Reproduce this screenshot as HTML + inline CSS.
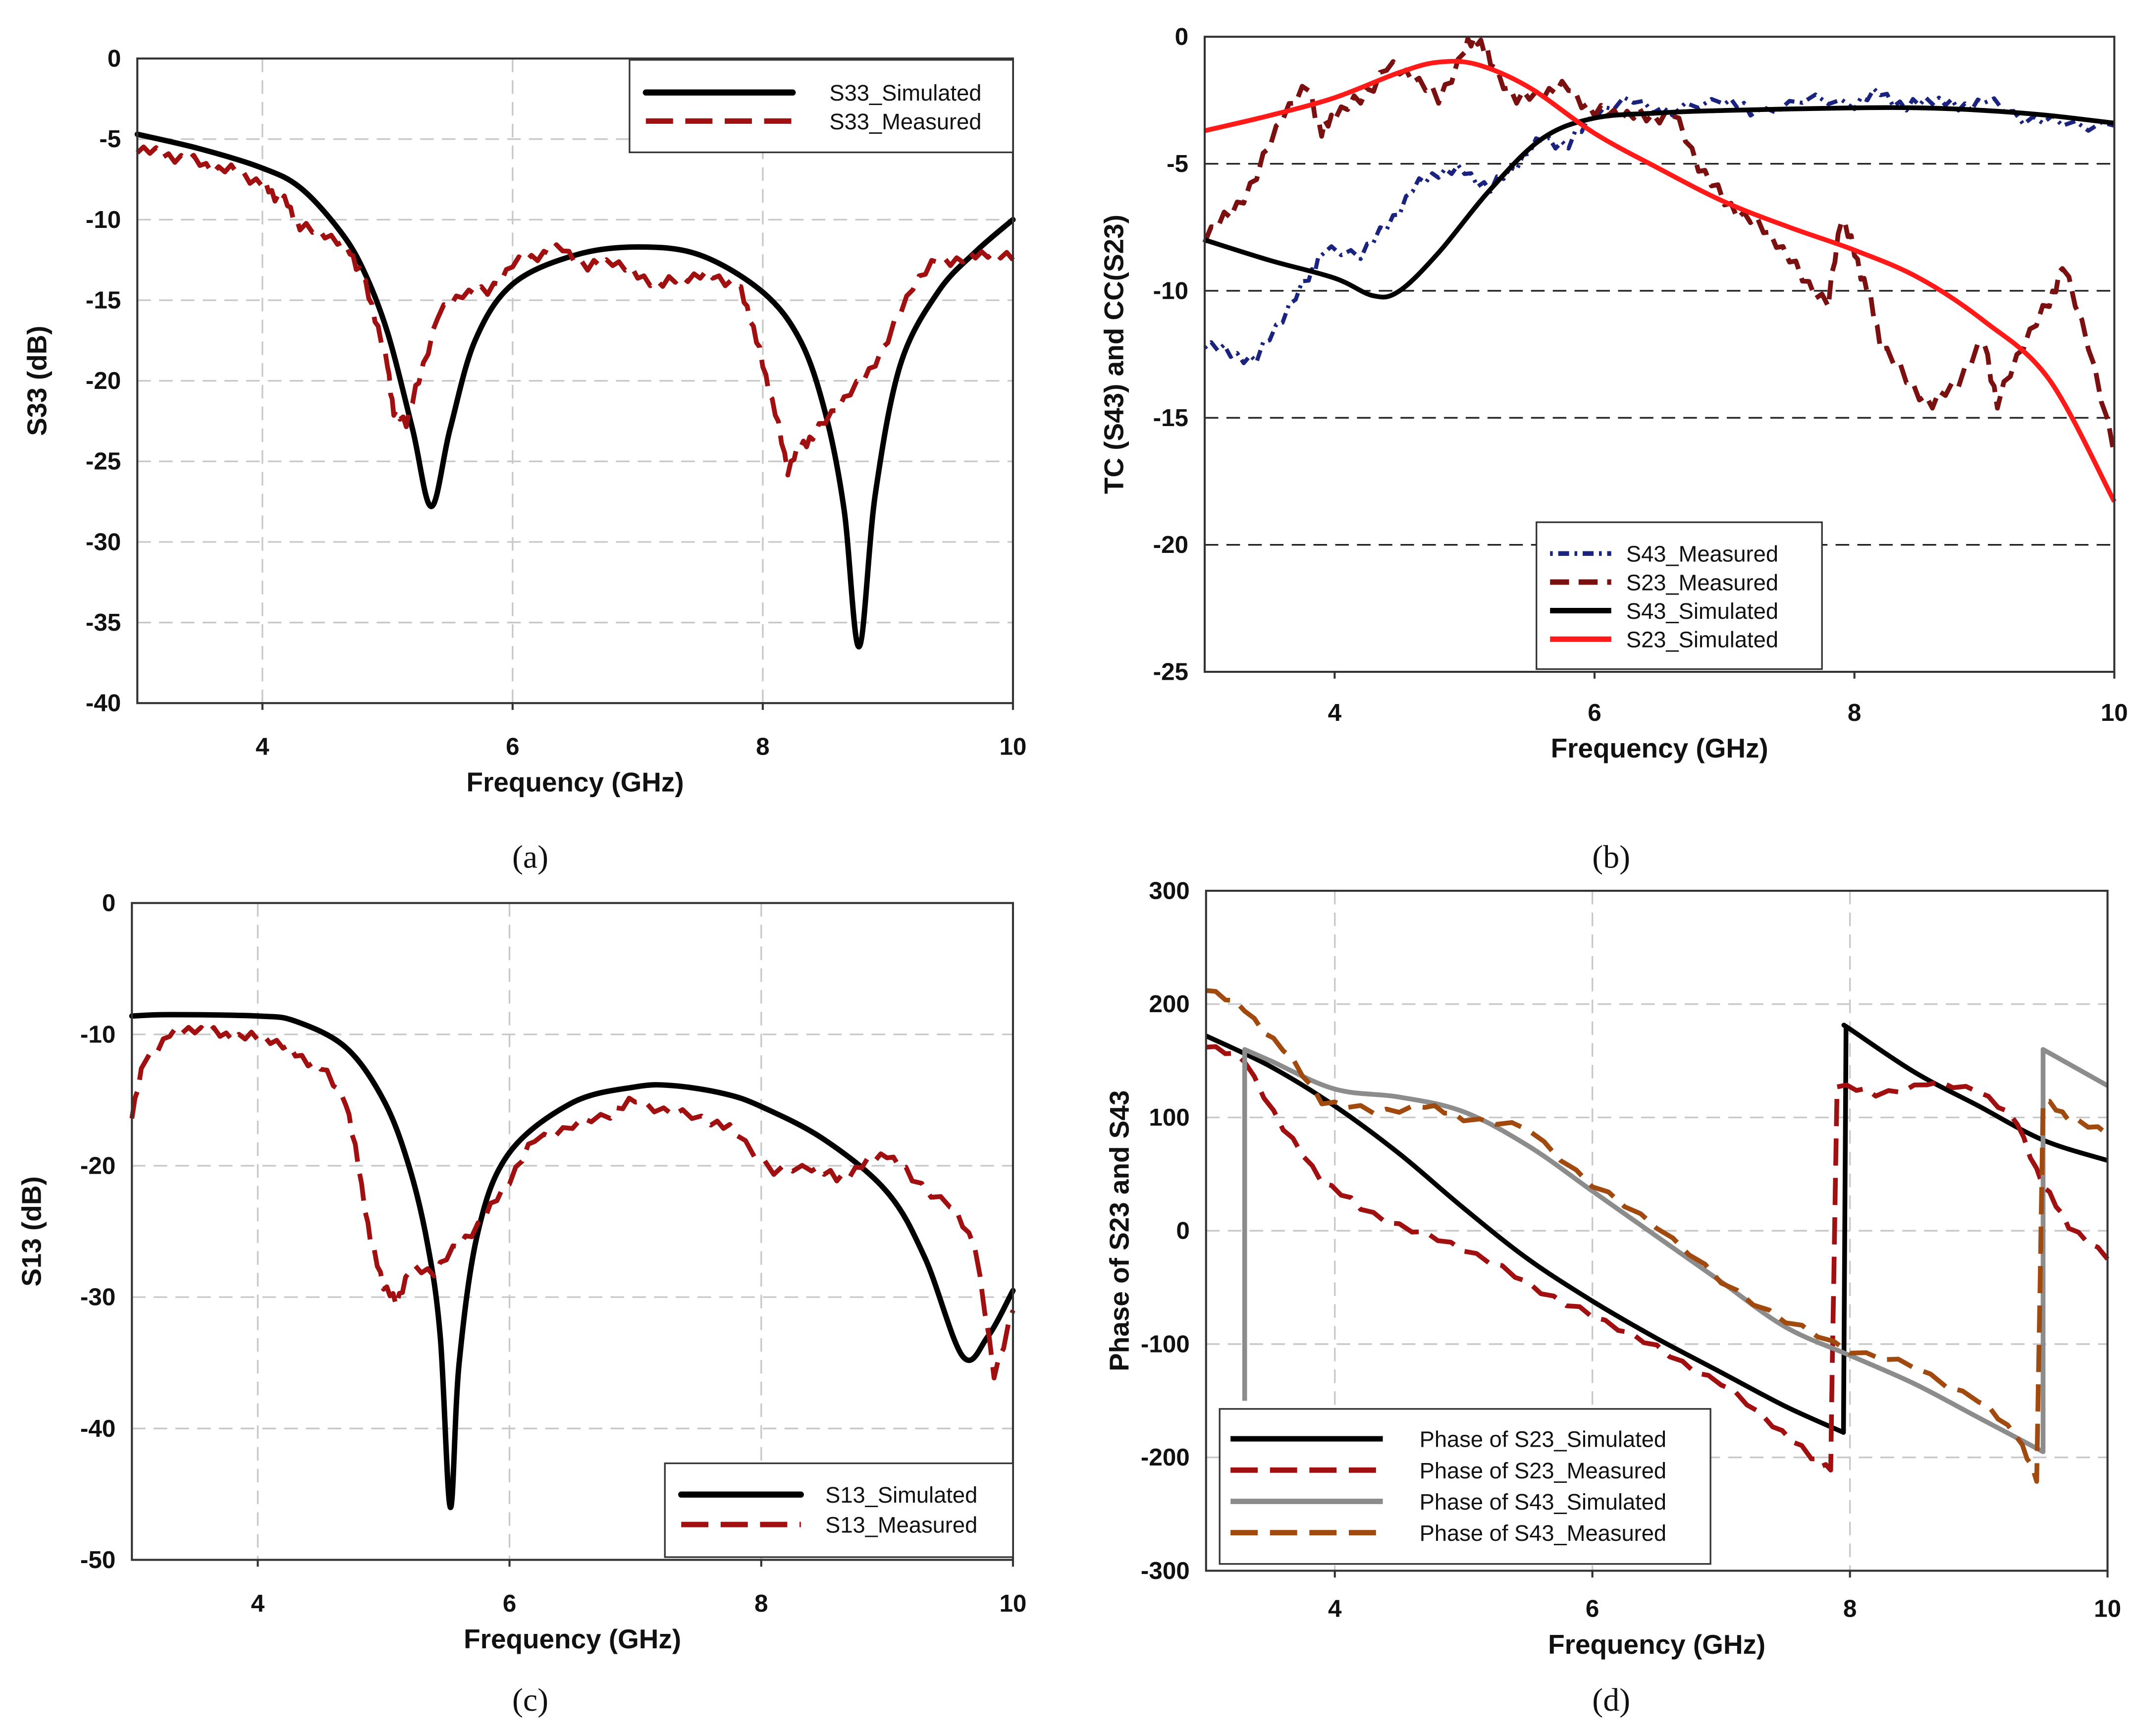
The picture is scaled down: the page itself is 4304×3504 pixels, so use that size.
<!DOCTYPE html>
<html><head><meta charset="utf-8"><style>
html,body{margin:0;padding:0;background:#fff;}
svg{display:block;}
text{font-family:"Liberation Sans",Arial,sans-serif;}
.tk{font-size:18px;font-weight:bold;fill:#111;}
.at{font-size:20px;font-weight:bold;fill:#111;}
.lg{font-size:16.5px;fill:#111;}
.cap{font-family:"Liberation Serif",serif;font-size:24px;fill:#111;}
</style></head><body>
<svg id="fig" width="4304" height="3504" viewBox="0 0 1568 1276.5" xmlns="http://www.w3.org/2000/svg"></svg>
<script>
// ---- data (a) ----
const aSimX=[3,3.5,4,4.3,4.6,4.8,5.0,5.2,5.35,5.5,5.7,6,6.5,7,7.5,8,8.3,8.5,8.65,8.77,8.9,9.1,9.4,9.7,10];
const aSimY=[-4.7,-5.6,-6.8,-8,-10.5,-13,-17,-23,-27.8,-23,-17.5,-14,-12.2,-11.7,-12.2,-14.5,-17.5,-22,-28,-36.5,-27,-19,-14.5,-12,-10];
const aMeaX=[3,3.2,3.4,3.6,3.8,4,4.1,4.2,4.3,4.5,4.7,4.8,4.9,5,5.05,5.15,5.25,5.4,5.6,5.8,6,6.2,6.4,6.6,6.8,7,7.2,7.4,7.6,7.8,7.9,8,8.1,8.2,8.3,8.4,8.6,8.8,9,9.2,9.4,9.6,9.8,10];
const aMeaY=[-5.5,-6,-6.2,-6.8,-7,-7.8,-8.5,-9,-10.5,-10.8,-12,-13.5,-16,-19,-22,-22.5,-20,-16,-14.5,-14.5,-12.8,-12.2,-11.8,-13,-12.5,-13.5,-14,-13.5,-13.5,-14,-16,-19,-22,-25.5,-24,-23.5,-21.5,-20,-17.5,-14,-12.5,-12.5,-12,-12.5];
// ---- data (b) ----
const b43SimX=[3,3.5,4,4.3,4.5,4.8,5.2,5.6,6,6.5,7,8,8.5,9,9.5,10];
const b43SimY=[-8,-8.8,-9.5,-10.2,-10,-8.5,-6,-4,-3.2,-3,-2.9,-2.8,-2.8,-2.9,-3.1,-3.4];
const b23SimX=[3,3.5,4,4.5,4.8,5.1,5.5,6,6.5,7,7.5,8,8.5,9,9.5,10];
const b23SimY=[-3.7,-3.1,-2.4,-1.4,-1,-1.1,-2,-3.8,-5.2,-6.5,-7.5,-8.4,-9.5,-11.2,-13.5,-18.3];
const b43MeaX=[3,3.2,3.4,3.6,3.8,3.9,4.2,4.4,4.6,4.8,5,5.2,5.4,5.6,5.8,6,6.3,6.6,7,7.2,7.6,8,8.2,8.4,8.6,8.8,9,9.3,9.6,10];
const b43MeaY=[-12,-12.5,-12.7,-11,-9.5,-8.5,-8.5,-7.5,-6,-5.3,-5.3,-6,-5,-4,-4.3,-3,-2.5,-3,-2.4,-3,-2.5,-2.6,-2.2,-2.8,-2.4,-2.8,-2.5,-3.2,-3.4,-3.5];
const b23MeaX=[3,3.2,3.4,3.6,3.8,3.9,4,4.2,4.4,4.6,4.8,5,5.1,5.2,5.4,5.6,5.8,6,6.2,6.4,6.6,6.8,7,7.2,7.4,7.6,7.8,7.9,8,8.1,8.2,8.4,8.6,8.8,9,9.1,9.3,9.5,9.6,9.8,10];
const b23MeaY=[-7.8,-7,-5.5,-3,-2,-3.8,-3,-2.5,-1.2,-1.5,-2.5,-0.5,0,-1,-2.5,-2.2,-2,-3,-3,-3.2,-3,-5,-6.5,-7.2,-8,-9.5,-10.5,-7,-8.5,-10,-12,-13.5,-14.5,-13.5,-12,-14.5,-12,-10.5,-9,-12,-16.5];
// ---- data (c) ----
const cSimX=[3,3.3,4,4.3,4.7,5,5.2,5.35,5.45,5.53,5.6,5.75,6,6.5,7,7.3,7.7,8,8.5,9,9.3,9.6,9.8,10];
const cSimY=[-8.6,-8.5,-8.6,-9,-11,-15,-20,-26,-33,-46,-35,-25,-19,-15.2,-14,-13.9,-14.5,-15.5,-18,-22,-27,-34.5,-33,-29.5];
const cMeaX=[3,3.1,3.3,3.5,3.7,3.9,4.1,4.3,4.5,4.7,4.8,4.9,5,5.1,5.2,5.4,5.6,5.8,6,6.2,6.5,6.8,7,7.3,7.6,7.8,8.1,8.4,8.6,8.8,9,9.2,9.5,9.7,9.85,10];
const cMeaY=[-16,-12,-10,-9.5,-10,-10.2,-10.3,-11.5,-12.5,-15,-20,-26,-29,-30.5,-28,-28,-26,-24,-21,-18,-17,-16,-15,-16,-16.5,-17.5,-20.5,-20,-21,-20,-19,-21,-23,-26,-36,-31];
// ---- data (d) ----
const d23SimX=[3,3.5,4,4.5,5,5.5,6,6.5,7,7.5,7.95,7.97,8,8.5,9,9.5,10];
const d23SimY=[172,145,110,68,20,-25,-62,-95,-125,-155,-178,180,178,140,110,80,62];
const d23MeaX=[3,3.3,3.6,3.9,4.2,4.6,5,5.4,5.8,6.2,6.6,7,7.4,7.7,7.85,7.9,8.2,8.6,9,9.3,9.5,9.7,10];
const d23MeaY=[165,150,90,45,20,0,-15,-40,-65,-85,-110,-135,-170,-200,-210,130,120,130,125,95,40,5,-25];
const d43SimX=[3.3,3.3,3.5,4,4.5,5,5.5,6,6.5,7,7.5,8,8.5,9,9.5,9.5,10];
const d43SimY=[-150,160,150,125,118,105,75,35,-5,-45,-85,-110,-135,-165,-195,160,128];
const d43MeaX=[3,3.3,3.6,3.9,4.3,4.7,5,5.5,6,6.5,7,7.5,8,8.5,9,9.3,9.45,9.5,9.7,10];
const d43MeaY=[215,195,160,115,105,110,100,90,40,5,-45,-80,-105,-120,-150,-180,-220,115,100,85];
// tick labels
const xTicks=[4,6,8,10];
const aYTicks=[0,-5,-10,-15,-20,-25,-30,-35,-40];
const bYTicks=[0,-5,-10,-15,-20,-25];
const cYTicks=[0,-10,-20,-30,-40,-50];
const dYTicks=[300,200,100,0,-100,-200,-300];

const NS="http://www.w3.org/2000/svg";
const svg=document.getElementById('fig');
function mk(tag,attrs,parent,txt){const e=document.createElementNS(NS,tag);for(const k in attrs)e.setAttribute(k,attrs[k]);if(txt!==undefined)e.textContent=txt;(parent||svg).appendChild(e);return e;}
function jitter(xs,ys,amp){
  const ox=[],oy=[];
  for(let i=0;i<xs.length-1;i++){const n=4;for(let k=0;k<n;k++){const t=k/n;ox.push(xs[i]+(xs[i+1]-xs[i])*t);oy.push(ys[i]+(ys[i+1]-ys[i])*t+(k%2?amp:-amp)*((i+k)%3===0?1:0.4));}}
  ox.push(xs[xs.length-1]);oy.push(ys[ys.length-1]);return [ox,oy];
}
function smoothPath(P){
  let d='M'+P[0][0].toFixed(1)+','+P[0][1].toFixed(1);
  for(let i=0;i<P.length-1;i++){
    const p0=P[i-1]||P[i],p1=P[i],p2=P[i+1],p3=P[i+2]||P[i+1];
    if(Math.abs(p2[0]-p1[0])<2.5){d+='L'+p2[0].toFixed(1)+','+p2[1].toFixed(1);continue;}
    const q0=(Math.abs(p1[0]-p0[0])<2.5)?p1:p0, q3=(Math.abs(p3[0]-p2[0])<2.5)?p2:p3;
    const c1=[p1[0]+(p2[0]-q0[0])/6,p1[1]+(p2[1]-q0[1])/6];
    const c2=[p2[0]-(q3[0]-p1[0])/6,p2[1]-(q3[1]-p1[1])/6];
    d+='C'+c1[0].toFixed(1)+','+c1[1].toFixed(1)+' '+c2[0].toFixed(1)+','+c2[1].toFixed(1)+' '+p2[0].toFixed(1)+','+p2[1].toFixed(1);
  }
  return d;
}
function panel(p){
  const g=mk('g',{});
  
  
  const sx=v=>p.x0+(v-3)/7*(p.x1-p.x0);
  const sy=v=>p.y0+(p.ymax-v)/(p.ymax-p.ymin)*(p.y1-p.y0);
  p.yt.forEach(v=>{if(v===p.ymax||v===p.ymin)return;const l=mk('line',{x1:p.x0,x2:p.x1,y1:sy(v),y2:sy(v),stroke:p.hgrid||'#c8c8c8','stroke-width':1.2,'stroke-dasharray':'10,6'},g);});
  if(p.vgrid!==false)xTicks.forEach(v=>{if(v===10)return;const l=mk('line',{x1:sx(v),x2:sx(v),y1:p.y0,y2:p.y1,stroke:'#c8c8c8','stroke-width':1.2,'stroke-dasharray':'10,6'},g);});
  p.series.forEach(s=>{
    let xs=s.x,ys=s.y;
    if(s.j){const r=jitter(xs,ys,s.j);xs=r[0];ys=r[1];}
    const P=xs.map((v,i)=>[sx(v),sy(ys[i])]);
    const d=s.j?P.map((q,i)=>(i?'L':'M')+q[0].toFixed(1)+','+q[1].toFixed(1)).join(''):smoothPath(P);
    const pa=mk('path',{d:d,fill:'none',stroke:s.c,'stroke-width':s.w,'stroke-dasharray':s.dash||'none','stroke-linejoin':'round','stroke-linecap':s.cap||'butt'},g);
    
    
  });
  const fr=mk('rect',{x:p.x0,y:p.y0,width:p.x1-p.x0,height:p.y1-p.y0,fill:'none',stroke:'#333','stroke-width':1.5},g);
  
  p.yt.forEach(v=>{const t=mk('text',{x:p.x0-12,y:sy(v)+6,'text-anchor':'end',class:'tk'},g,String(v));});
  xTicks.forEach(v=>{mk('line',{x1:sx(v),x2:sx(v),y1:p.y1,y2:p.y1+5,stroke:'#333','stroke-width':1.5},g);const t=mk('text',{x:sx(v),y:p.y1+p.xtd,'text-anchor':'middle',class:'tk'},g,String(v));});
  const xt=mk('text',{x:(p.x0+p.x1)/2,y:p.y1+p.xtd+27,'text-anchor':'middle',class:'at'},g,'Frequency (GHz)');
  
  const cy=(p.y0+p.y1)/2;
  const yt=mk('text',{x:p.ytx,y:cy,'text-anchor':'middle',class:'at',transform:`rotate(-90 ${p.ytx} ${cy})`},g,p.ytitle);
  
  const L=p.leg;
  const lb=mk('rect',{x:L.x,y:L.y,width:L.w,height:L.h,fill:'#fff',stroke:'#333','stroke-width':1.2},g);
  
  p.series.forEach((s,i)=>{
    const yy=L.y+L.pad+i*L.dy;
    mk('line',{x1:L.x+L.lx1,x2:L.x+L.lx2,y1:yy,y2:yy,stroke:s.c,'stroke-width':s.w+0.5,'stroke-dasharray':s.ldash||s.dash||'none','stroke-linecap':s.cap||'butt'},g);
    const t=mk('text',{x:L.x+L.tx,y:yy+6,class:'lg'},g,s.label);
    
  });
  const c=mk('text',{x:p.capx,y:p.capy,'text-anchor':'middle',class:'cap'},g,p.cap);
  
}
const DR='#a01010';
panel({name:'panel-a-s33',x0:101,x1:745,y0:43,y1:517,ymax:0,ymin:-40,yt:aYTicks,xtd:38,ytx:34,ytitle:'S33 (dB)',
  series:[{id:'s33-simulated',x:aSimX,y:aSimY,c:'#000',w:4,label:'S33_Simulated',cap:'round'},
          {id:'s33-measured',x:aMeaX,y:aMeaY,c:DR,w:3.5,dash:'20,9',j:0.35,label:'S33_Measured'}],
  leg:{x:463,y:44,w:282,h:68,pad:24,dy:21,lx1:12,lx2:120,tx:147},cap:'(a)',capx:390,capy:638});
panel({name:'panel-b-tc-cc',x0:886,x1:1555,y0:27,y1:494,ymax:0,ymin:-25,yt:bYTicks,xtd:36,ytx:826,ytitle:'TC (S43) and CC(S23)',hgrid:'#222',vgrid:false,
  series:[{id:'s43-measured',x:b43MeaX,y:b43MeaY,c:'#1a237e',w:3,dash:'2,4,8,4',j:0.25,label:'S43_Measured'},
          {id:'s23-measured',x:b23MeaX,y:b23MeaY,c:'#7a1010',w:3.5,dash:'14,7',j:0.3,label:'S23_Measured'},
          {id:'s43-simulated',x:b43SimX,y:b43SimY,c:'#000',w:3.5,label:'S43_Simulated'},
          {id:'s23-simulated',x:b23SimX,y:b23SimY,c:'#ff1a1a',w:3.5,label:'S23_Simulated'}],
  leg:{x:1130,y:384,w:210,h:108,pad:23,dy:21,lx1:10,lx2:55,tx:66},cap:'(b)',capx:1185,capy:638});
panel({name:'panel-c-s13',x0:97,x1:745,y0:664,y1:1147,ymax:0,ymin:-50,yt:cYTicks,xtd:38,ytx:30,ytitle:'S13 (dB)',
  series:[{id:'s13-simulated',x:cSimX,y:cSimY,c:'#000',w:4,label:'S13_Simulated',cap:'round'},
          {id:'s13-measured',x:cMeaX,y:cMeaY,c:DR,w:3.5,dash:'20,9',j:0.4,label:'S13_Measured'}],
  leg:{x:489,y:1076,w:256,h:69,pad:23,dy:22,lx1:12,lx2:100,tx:118},cap:'(c)',capx:390,capy:1258});
panel({name:'panel-d-phase',x0:887,x1:1550,y0:655,y1:1155,ymax:300,ymin:-300,yt:dYTicks,xtd:34,ytx:830,ytitle:'Phase of S23 and S43',
  series:[{id:'phase-s23-simulated',x:d23SimX,y:d23SimY,c:'#000',w:3.5,label:'Phase of S23_Simulated'},
          {id:'phase-s23-measured',x:d23MeaX,y:d23MeaY,c:DR,w:3.5,dash:'20,9',j:3,label:'Phase of S23_Measured'},
          {id:'phase-s43-simulated',x:d43SimX,y:d43SimY,c:'#8c8c8c',w:3.5,label:'Phase of S43_Simulated'},
          {id:'phase-s43-measured',x:d43MeaX,y:d43MeaY,c:'#a04a10',w:3.5,dash:'20,9',j:3,label:'Phase of S43_Measured'}],
  leg:{x:897,y:1036,w:361,h:114,pad:22,dy:23,lx1:8,lx2:120,tx:147},cap:'(d)',capx:1185,capy:1258});
</script>
</body></html>
